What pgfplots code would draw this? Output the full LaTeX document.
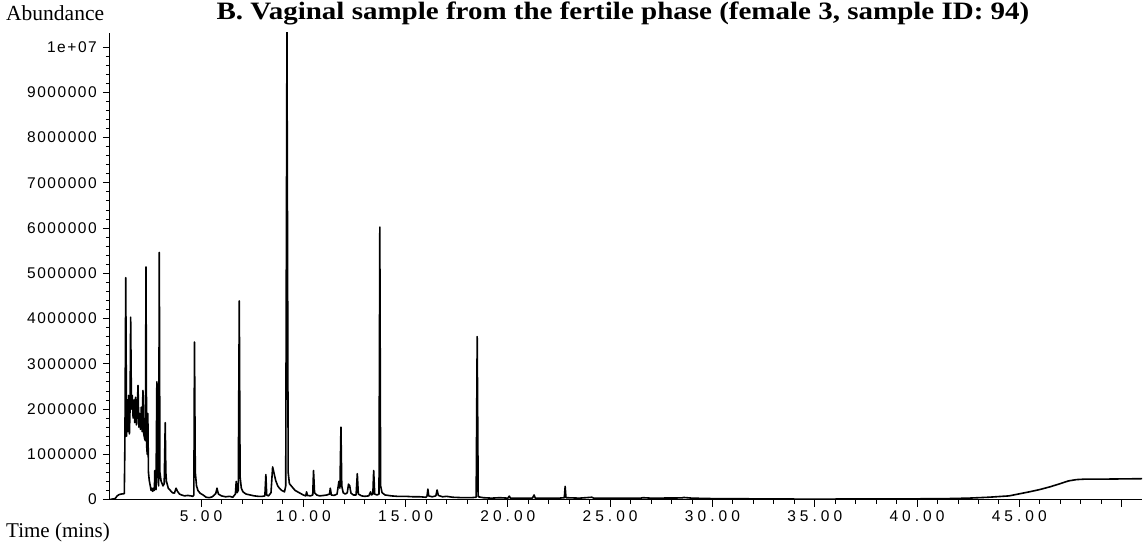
\documentclass[border=0pt]{standalone}
\usepackage{fontspec}
\setmainfont{Liberation Serif}
\newfontfamily\ytickfont[LetterSpace=10]{Liberation Sans}
\newfontfamily\xtickfont[LetterSpace=26]{Liberation Sans}
\usepackage{pgfplots}
\pgfplotsset{compat=1.18}

\pgfplotstableread{
t y
0.55 0
0.80 20000
0.90 80000
1.00 110000
1.10 120000
1.25 130000
1.28 1300000
1.32 4900000
1.36 1400000
1.40 2200000
1.43 1500000
1.46 2300000
1.50 1450000
1.53 2000000
1.56 4030000
1.60 2000000
1.64 2300000
1.68 1800000
1.72 2200000
1.76 1700000
1.80 2260000
1.84 1650000
1.88 2000000
1.92 2520000
1.96 1600000
2.00 1900000
2.04 1550000
2.08 2040000
2.12 1500000
2.16 2410000
2.20 1450000
2.24 1350000
2.28 1300000
2.31 5140000
2.34 1200000
2.37 1000000
2.40 1900000
2.43 600000
2.47 420000
2.52 300000
2.56 200000
2.60 250000
2.64 180000
2.68 250000
2.72 200000
2.74 640000
2.77 250000
2.80 220000
2.84 2600000
2.87 2400000
2.90 400000
2.93 300000
2.96 5460000
2.99 600000
3.05 400000
3.10 350000
3.14 300000
3.20 350000
3.25 1700000
3.28 600000
3.31 400000
3.40 250000
3.50 200000
3.60 150000
3.70 140000
3.78 250000
3.85 180000
3.95 120000
4.05 100000
4.20 80000
4.35 90000
4.50 80000
4.60 70000
4.65 100000
4.68 3480000
4.72 600000
4.78 300000
4.85 200000
4.95 140000
5.10 100000
5.25 50000
5.40 40000
5.55 60000
5.65 100000
5.72 130000
5.78 250000
5.85 120000
6.00 80000
6.20 60000
6.40 70000
6.55 50000
6.68 120000
6.72 400000
6.76 150000
6.82 200000
6.87 4390000
6.91 500000
6.97 250000
7.05 170000
7.20 120000
7.40 100000
7.60 80000
7.80 70000
8.00 70000
8.12 80000
8.17 550000
8.21 100000
8.30 80000
8.42 150000
8.50 720000
8.56 600000
8.65 420000
8.75 300000
8.85 240000
8.95 200000
9.08 170000
9.14 300000
9.20 10400000
9.26 600000
9.32 350000
9.45 280000
9.60 200000
9.80 150000
10.00 100000
10.12 80000
10.16 170000
10.20 90000
10.35 80000
10.46 100000
10.50 640000
10.55 150000
10.65 100000
10.80 80000
11.00 90000
11.15 100000
11.28 120000
11.32 250000
11.37 100000
11.50 90000
11.65 120000
11.74 400000
11.79 250000
11.84 1600000
11.88 300000
11.95 150000
12.05 120000
12.15 150000
12.21 340000
12.27 300000
12.33 140000
12.45 100000
12.58 100000
12.64 570000
12.69 120000
12.85 80000
13.00 70000
13.20 80000
13.29 170000
13.33 100000
13.40 120000
13.44 640000
13.49 120000
13.60 100000
13.70 120000
13.74 6020000
13.78 300000
13.85 150000
14.00 100000
14.30 80000
14.60 70000
15.00 70000
15.40 60000
15.70 60000
16.00 50000
16.05 80000
16.09 230000
16.13 80000
16.30 60000
16.48 80000
16.54 210000
16.60 90000
16.80 60000
17.00 70000
17.30 50000
17.80 40000
18.20 40000
18.45 50000
18.50 3600000
18.55 60000
18.80 40000
19.20 30000
19.60 40000
20.00 30000
20.07 75000
20.12 30000
20.60 30000
21.20 30000
21.28 100000
21.34 30000
22.00 30000
22.50 30000
22.76 40000
22.80 290000
22.84 40000
23.50 30000
24.10 50000
24.20 30000
25.00 30000
26.50 30000
26.60 40000
27.00 30000
28.50 35000
28.60 45000
29.00 30000
30.00 20000
32.00 15000
34.00 10000
36.00 10000
38.00 12000
40.00 15000
41.50 20000
42.50 30000
43.50 50000
44.50 80000
45.50 170000
46.00 220000
46.50 280000
47.00 350000
47.40 410000
47.80 440000
48.20 450000
49.00 450000
50.00 455000
51.00 460000
}\chrom

\begin{document}
\begin{tikzpicture}[x=1pt,y=1pt]
\begin{axis}[
  at={(0,0)}, anchor=south west,
  scale only axis, width=1032pt, height=466.5pt,
  xmin=0.55, xmax=51, ymin=0, ymax=10310000,
  axis x line*=bottom, axis y line*=left,
  axis line style={-, line width=1pt, black},
  tick align=outside,
  major tick length=7pt, minor tick length=4pt,
  tick style={black, line width=0.8pt},
  xtick={5,10,15,20,25,30,35,40,45,50},
  xticklabels={5.00,10.00,15.00,20.00,25.00,30.00,35.00,40.00,45.00,{}},
  minor x tick num=4,
  ytick={0,1000000,2000000,3000000,4000000,5000000,6000000,7000000,8000000,9000000,10000000},
  yticklabels={0,1000000,2000000,3000000,4000000,5000000,6000000,7000000,8000000,9000000,1e+07},
  minor y tick num=4,
  scaled y ticks=false, scaled x ticks=false,
  xticklabel style={font=\xtickfont\fontsize{15.5}{15.5}\selectfont, inner sep=0pt, yshift=-3.5pt},
  yticklabel style={font=\ytickfont\fontsize{15.5}{15.5}\selectfont, inner sep=0pt, xshift=-6pt},
  clip=true,
]
\addplot[black, line width=1.6pt, line join=round] table[x=t,y=y] {\chrom};
\end{axis}
\node[anchor=base west, inner sep=0pt, font=\fontsize{21.5}{24}\selectfont] at (-104pt,478.5pt) {Abundance};
\node[anchor=base west, inner sep=0pt, font=\fontsize{21}{24}\selectfont] at (-104pt,-37.5pt) {Time (mins)};
\node[anchor=base, inner sep=0pt, xscale=1.16, font=\bfseries\fontsize{25}{28}\selectfont] at (513pt,480pt) {B. Vaginal sample from the fertile phase (female 3, sample ID: 94)};
\pgfresetboundingbox
\path[use as bounding box] (-110pt,-41.5pt) rectangle (1037pt,499.5pt);
\end{tikzpicture}
\end{document}
